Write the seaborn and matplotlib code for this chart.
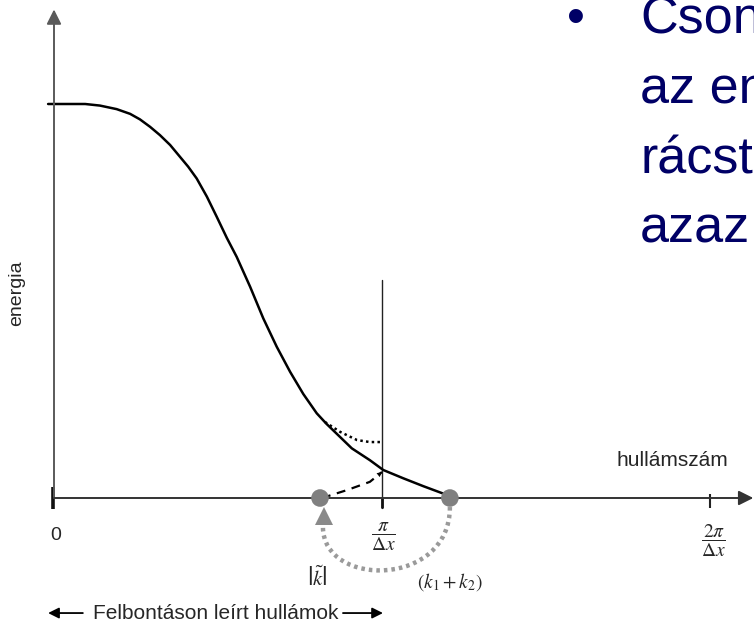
import numpy as np
import pandas as pd
import seaborn as sns
import matplotlib
matplotlib.use("Agg")
import matplotlib.pyplot as plt
from matplotlib.path import Path
from matplotlib.patches import PathPatch

# Wavenumber k in units of pi/dx, energy normalised to the large-scale plateau
curve_k = [-0.018, 0.095, 0.140, 0.191, 0.232, 0.262, 0.293, 0.323, 0.354, 0.384,
           0.409, 0.435, 0.466, 0.496, 0.527, 0.557, 0.598, 0.638, 0.679, 0.720,
           0.760, 0.801, 0.831, 0.872, 0.908, 0.963, 1.004, 1.065, 1.126, 1.197,
           1.207]
curve_E = [1.0, 1.0, 0.996, 0.987, 0.975, 0.961, 0.942, 0.921, 0.896, 0.866,
           0.841, 0.811, 0.765, 0.714, 0.660, 0.612, 0.536, 0.456, 0.384, 0.320,
           0.264, 0.215, 0.188, 0.155, 0.126, 0.096, 0.071, 0.050, 0.030, 0.008,
           0.0]

# Energy pile-up near the cutoff
pileup_k = [0.826, 0.872, 0.924, 0.963, 1.0]
pileup_E = [0.193, 0.168, 0.147, 0.142, 0.142]

# Aliased contribution folded back from k1+k2 to |k~|
alias_k = [0.817, 0.893, 0.963, 1.0]
alias_E = [0.0, 0.020, 0.041, 0.066]

k_tilde = 0.811
k_sum = 1.207
cutoff = 1.0
grid_limit = 2.0

tick_vals = [cutoff, grid_limit]
tick_labels = [r"$\dfrac{\pi}{\Delta x}$", r"$\dfrac{2\pi}{\Delta x}$"]

W, H = 754, 631
fig = plt.figure(figsize=(W / 100, H / 100), dpi=100)
sns.set_style("white")
plt.rcParams["font.family"] = ["Liberation Sans", "DejaVu Sans"]
plt.rcParams["mathtext.fontset"] = "stix"

ax = fig.add_axes([0, 0, 1, 1])
ax.set_xlim(-54 / 328, 700 / 328)
ax.set_ylim(-133 / 394, 498 / 394)
ax.axis("off")

curve = pd.DataFrame({"k": curve_k, "E": curve_E})
pile = pd.DataFrame({"k": pileup_k, "E": pileup_E})
alias = pd.DataFrame({"k": alias_k, "E": alias_E})

# Coordinate axes with arrowheads
ax.annotate("", xy=(0, 1.240), xytext=(0, 0),
            arrowprops=dict(arrowstyle="-|>", color="#5a5a5a", lw=1.4,
                            mutation_scale=22, shrinkA=0, shrinkB=0))
ax.annotate("", xy=(2.132, 0), xytext=(0, 0),
            arrowprops=dict(arrowstyle="-|>", color="#333333", lw=1.4,
                            mutation_scale=22, shrinkA=0, shrinkB=0))
ax.plot([-0.002, -0.002], [0.028, -0.028], color="#111111", lw=2.6,
        solid_capstyle="butt")
ax.plot([grid_limit, grid_limit], [0.010, -0.025], color="#222222", lw=1.5,
        solid_capstyle="butt")
ax.plot([cutoff, cutoff], [0.553, -0.025], color="#222222", lw=1.0)
ax.plot([cutoff, cutoff], [0.0, -0.025], color="#111111", lw=2.0,
        solid_capstyle="butt")

# Spectrum, pile-up and aliased part
sns.lineplot(data=curve, x="k", y="E", sort=False, estimator=None, ax=ax,
             color="black", lw=1.8)
sns.lineplot(data=pile, x="k", y="E", sort=False, estimator=None, ax=ax,
             color="black", lw=1.8, linestyle=(0, (1, 1.3)))
sns.lineplot(data=alias, x="k", y="E", sort=False, estimator=None, ax=ax,
             color="black", lw=1.6, linestyle=(0, (4, 3)))
ax.annotate("", xy=(alias_k[-1], alias_E[-1]), xytext=(alias_k[-2], alias_E[-2]),
            arrowprops=dict(arrowstyle="-|>", color="black", lw=0,
                            mutation_scale=9, shrinkA=0, shrinkB=0))

pts = pd.DataFrame({"k": [k_tilde, k_sum], "E": [0.0, 0.0]})
sns.scatterplot(data=pts, x="k", y="E", ax=ax, color="#808080", s=160,
                edgecolor="none", zorder=5)

# Folding arrow from k1+k2 back to |k~|
verts = [(k_sum, -0.023), (k_sum, -0.228), (0.820, -0.228), (0.820, -0.074)]
arc = PathPatch(Path(verts, [Path.MOVETO, Path.CURVE4, Path.CURVE4, Path.CURVE4]),
                fill=False, edgecolor="#9a9a9a", lw=3.2, linestyle=(0, (0.8, 0.9)))
ax.add_patch(arc)
ax.plot([0.823], [-0.045], marker="^", markersize=13, color="#8a8a8a",
        markeredgewidth=0, zorder=6)

# Labels
ax.text(-0.113, 0.520, "energia", rotation=90, ha="center", va="center", fontsize=14)
ax.text(1.884, 0.094, "hullámszám", ha="center", va="center", fontsize=15)
ax.text(0.006, -0.094, "0", ha="center", va="center", fontsize=14)
ax.text(1.0 + 0.003, -0.099, tick_labels[0], ha="center", va="center", fontsize=14)
ax.text(2.0 + 0.009, -0.109, tick_labels[1], ha="center", va="center", fontsize=14)
ax.text(0.802, -0.203, r"$\left|\tilde{k}\right|$", ha="center", va="center",
        fontsize=15)
ax.text(1.207, -0.213, r"$(k_1 + k_2)$", ha="center", va="center", fontsize=14)

ax.text(0.494, -0.292, "Felbontáson leírt hullámok", ha="center", va="center",
        fontsize=15)
ax.annotate("", xy=(-0.018, -0.292), xytext=(0.088, -0.292),
            arrowprops=dict(arrowstyle="-|>", color="black", lw=1.3,
                            mutation_scale=16, shrinkA=0, shrinkB=0))
ax.annotate("", xy=(1.003, -0.292), xytext=(0.881, -0.292),
            arrowprops=dict(arrowstyle="-|>", color="black", lw=1.3,
                            mutation_scale=16, shrinkA=0, shrinkB=0))

# Slide bullet text on the right
navy = "#000066"
fig.text(576 / W, 1 - 33 / H, "•", color=navy, fontsize=37, ha="center",
         va="baseline")
for line, base in zip(["Cson", "az en", "rácst", "azaz"], [33, 103, 173, 243]):
    fig.text(640 / W, 1 - base / H, line, color=navy, fontsize=37.5,
             ha="left", va="baseline")

fig.savefig("out.png", dpi=100)
